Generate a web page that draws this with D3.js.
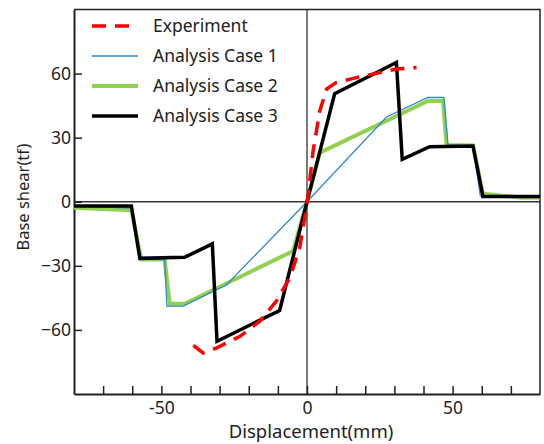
<!DOCTYPE html>
<html>
<head>
<meta charset="utf-8">
<script src="https://cdn.jsdelivr.net/npm/d3@7"></script>
<style>
  body { margin: 0; background: #fff; }
  text { font-family: "Noto Sans", "Open Sans", sans-serif; fill: #222; }
</style>
</head>
<body>
<div id="chart"></div>
<script>
// Base shear vs displacement, experiment and three analysis cases

const width = 544;
const height = 444;
const margin = { top: 9.5, right: 4, bottom: 50, left: 74 };

// Data: [displacement mm, base shear tf]
const experiment = [
    [-39, -67.2], [-35.7, -70.8], [-31, -68.4], [-23, -63], [-16.2, -55.9],
    [-10.5, -46.5], [-5.9, -35.6], [-2.5, -21.6], [-0.2, -2.8], [0.3, 2],
    [2.1, 23.8], [4.4, 42.5], [6.7, 52.7], [10, 55.8], [17, 58.1],
    [25, 60.5], [30.7, 62.1], [37.6, 62.8]
];
const case1 = [
    [-80, -2], [-60.3, -3], [-57, -26.5], [-48.9, -27], [-48.1, -48.9],
    [-42.6, -48.9], [-27.7, -39], [0, 0], [27.3, 39.7], [41.5, 48.8],
    [47, 48.8], [48.4, 26.6], [57, 26.3], [59.5, 2.7], [80, 2]
];
const case2 = [
    [-80, -2.8], [-60.3, -4], [-56.9, -27], [-48.9, -27], [-47.1, -47.8],
    [-42, -47.8], [-4.8, -23.1], [0, 0], [4.4, 23], [41.5, 47.2],
    [46.7, 47.2], [47.9, 26.6], [57, 26.3], [60.4, 3.8], [74, 1.9], [80, 2]
];
const case3 = [
    [-80, -2], [-60.3, -2], [-57.4, -26.5], [-42, -26], [-32.5, -19.7],
    [-30.9, -65.3], [-9.4, -50.9], [0, 0], [9.5, 50.6], [30.7, 65.2],
    [32.7, 19.9], [42.1, 25.8], [57, 26.1], [60.4, 2.4], [80, 2.4]
];

const xTicks = [-70, -60, -50, -40, -30, -20, -10, 0, 10, 20, 30, 40, 50, 60, 70];
const xTickLabels = [-50, 0, 50];
const yTicks = [-60, -30, 0, 30, 60];

const series = [
    { name: 'Experiment', data: experiment, color: '#ff0000', width: 3.5, dash: '14,9' },
    { name: 'Analysis Case 1', data: case1, color: '#2d87d3', width: 1.3, dash: null },
    { name: 'Analysis Case 2', data: case2, color: '#92d050', width: 4, dash: null },
    { name: 'Analysis Case 3', data: case3, color: '#000000', width: 3.5, dash: null }
];

const svg = d3.select('#chart').append('svg')
    .attr('width', width)
    .attr('height', height);

const x = d3.scaleLinear().domain([-80, 80]).range([margin.left, width - margin.right]);
const y = d3.scaleLinear().domain([-90, 90]).range([height - margin.bottom, margin.top]);

svg.append('clipPath').attr('id', 'plot-clip')
    .append('rect')
    .attr('x', x(-80)).attr('y', y(90))
    .attr('width', x(80) - x(-80)).attr('height', y(-90) - y(90));

// zero lines
svg.append('line')
    .attr('x1', x(-80)).attr('x2', x(80))
    .attr('y1', y(0)).attr('y2', y(0))
    .attr('stroke', '#333').attr('stroke-width', 1.3);
svg.append('line')
    .attr('x1', x(0)).attr('x2', x(0))
    .attr('y1', y(-90)).attr('y2', y(90))
    .attr('stroke', '#333').attr('stroke-width', 1.3);

// frame top and right
svg.append('path')
    .attr('d', `M${x(-80)},${y(90)}H${x(80)}V${y(-90)}`)
    .attr('fill', 'none').attr('stroke', '#222').attr('stroke-width', 1.5);

// axes
const xAxis = d3.axisBottom(x)
    .tickValues(xTicks)
    .tickSizeInner(-8)
    .tickSizeOuter(0)
    .tickPadding(8)
    .tickFormat(d => xTickLabels.includes(d) ? d : '');
const gx = svg.append('g')
    .attr('transform', `translate(0,${y(-90)})`)
    .call(xAxis);

const yAxis = d3.axisLeft(y)
    .tickValues(yTicks)
    .tickSizeInner(-8)
    .tickSizeOuter(0)
    .tickPadding(3);
const gy = svg.append('g')
    .attr('transform', `translate(${x(-80)},0)`)
    .call(yAxis);

[gx, gy].forEach(g => {
    g.select('.domain').attr('stroke', '#222').attr('stroke-width', 2);
    g.selectAll('.tick line').attr('stroke', '#222').attr('stroke-width', 1.5);
    g.selectAll('.tick text').attr('font-size', 17.5).attr('fill', '#222')
        .style('font-family', '"Noto Sans", "Open Sans", sans-serif');
});

// axis titles
svg.append('text')
    .attr('x', 311)
    .attr('y', 438)
    .attr('text-anchor', 'middle')
    .attr('font-size', 18.5)
    .text('Displacement(mm)');

svg.append('text')
    .attr('transform', 'translate(29,197) rotate(-90)')
    .attr('text-anchor', 'middle')
    .attr('font-size', 16.5)
    .text('Base shear(tf)');

// lines
const line = d3.line().x(d => x(d[0])).y(d => y(d[1]));
const plot = svg.append('g').attr('clip-path', 'url(#plot-clip)');

// draw order: case 2 under case 1, black over both, experiment on top
[series[2], series[1], series[3], series[0]].forEach(s => {
    plot.append('path')
        .datum(s.data)
        .attr('d', line)
        .attr('fill', 'none')
        .attr('stroke', s.color)
        .attr('stroke-width', s.width)
        .attr('stroke-linejoin', 'miter')
        .attr('stroke-dasharray', s.dash);
});

// legend
const legend = svg.append('g');
series.forEach((s, i) => {
    const ly = 26 + i * 30;
    legend.append('line')
        .attr('x1', 92).attr('x2', 138)
        .attr('y1', ly).attr('y2', ly)
        .attr('stroke', s.color)
        .attr('stroke-width', s.width)
        .attr('stroke-dasharray', s.dash);
    legend.append('text')
        .attr('x', 153)
        .attr('y', ly)
        .attr('dy', '0.35em')
        .attr('font-size', 17.5)
        .text(s.name);
});
</script>
</body>
</html>
